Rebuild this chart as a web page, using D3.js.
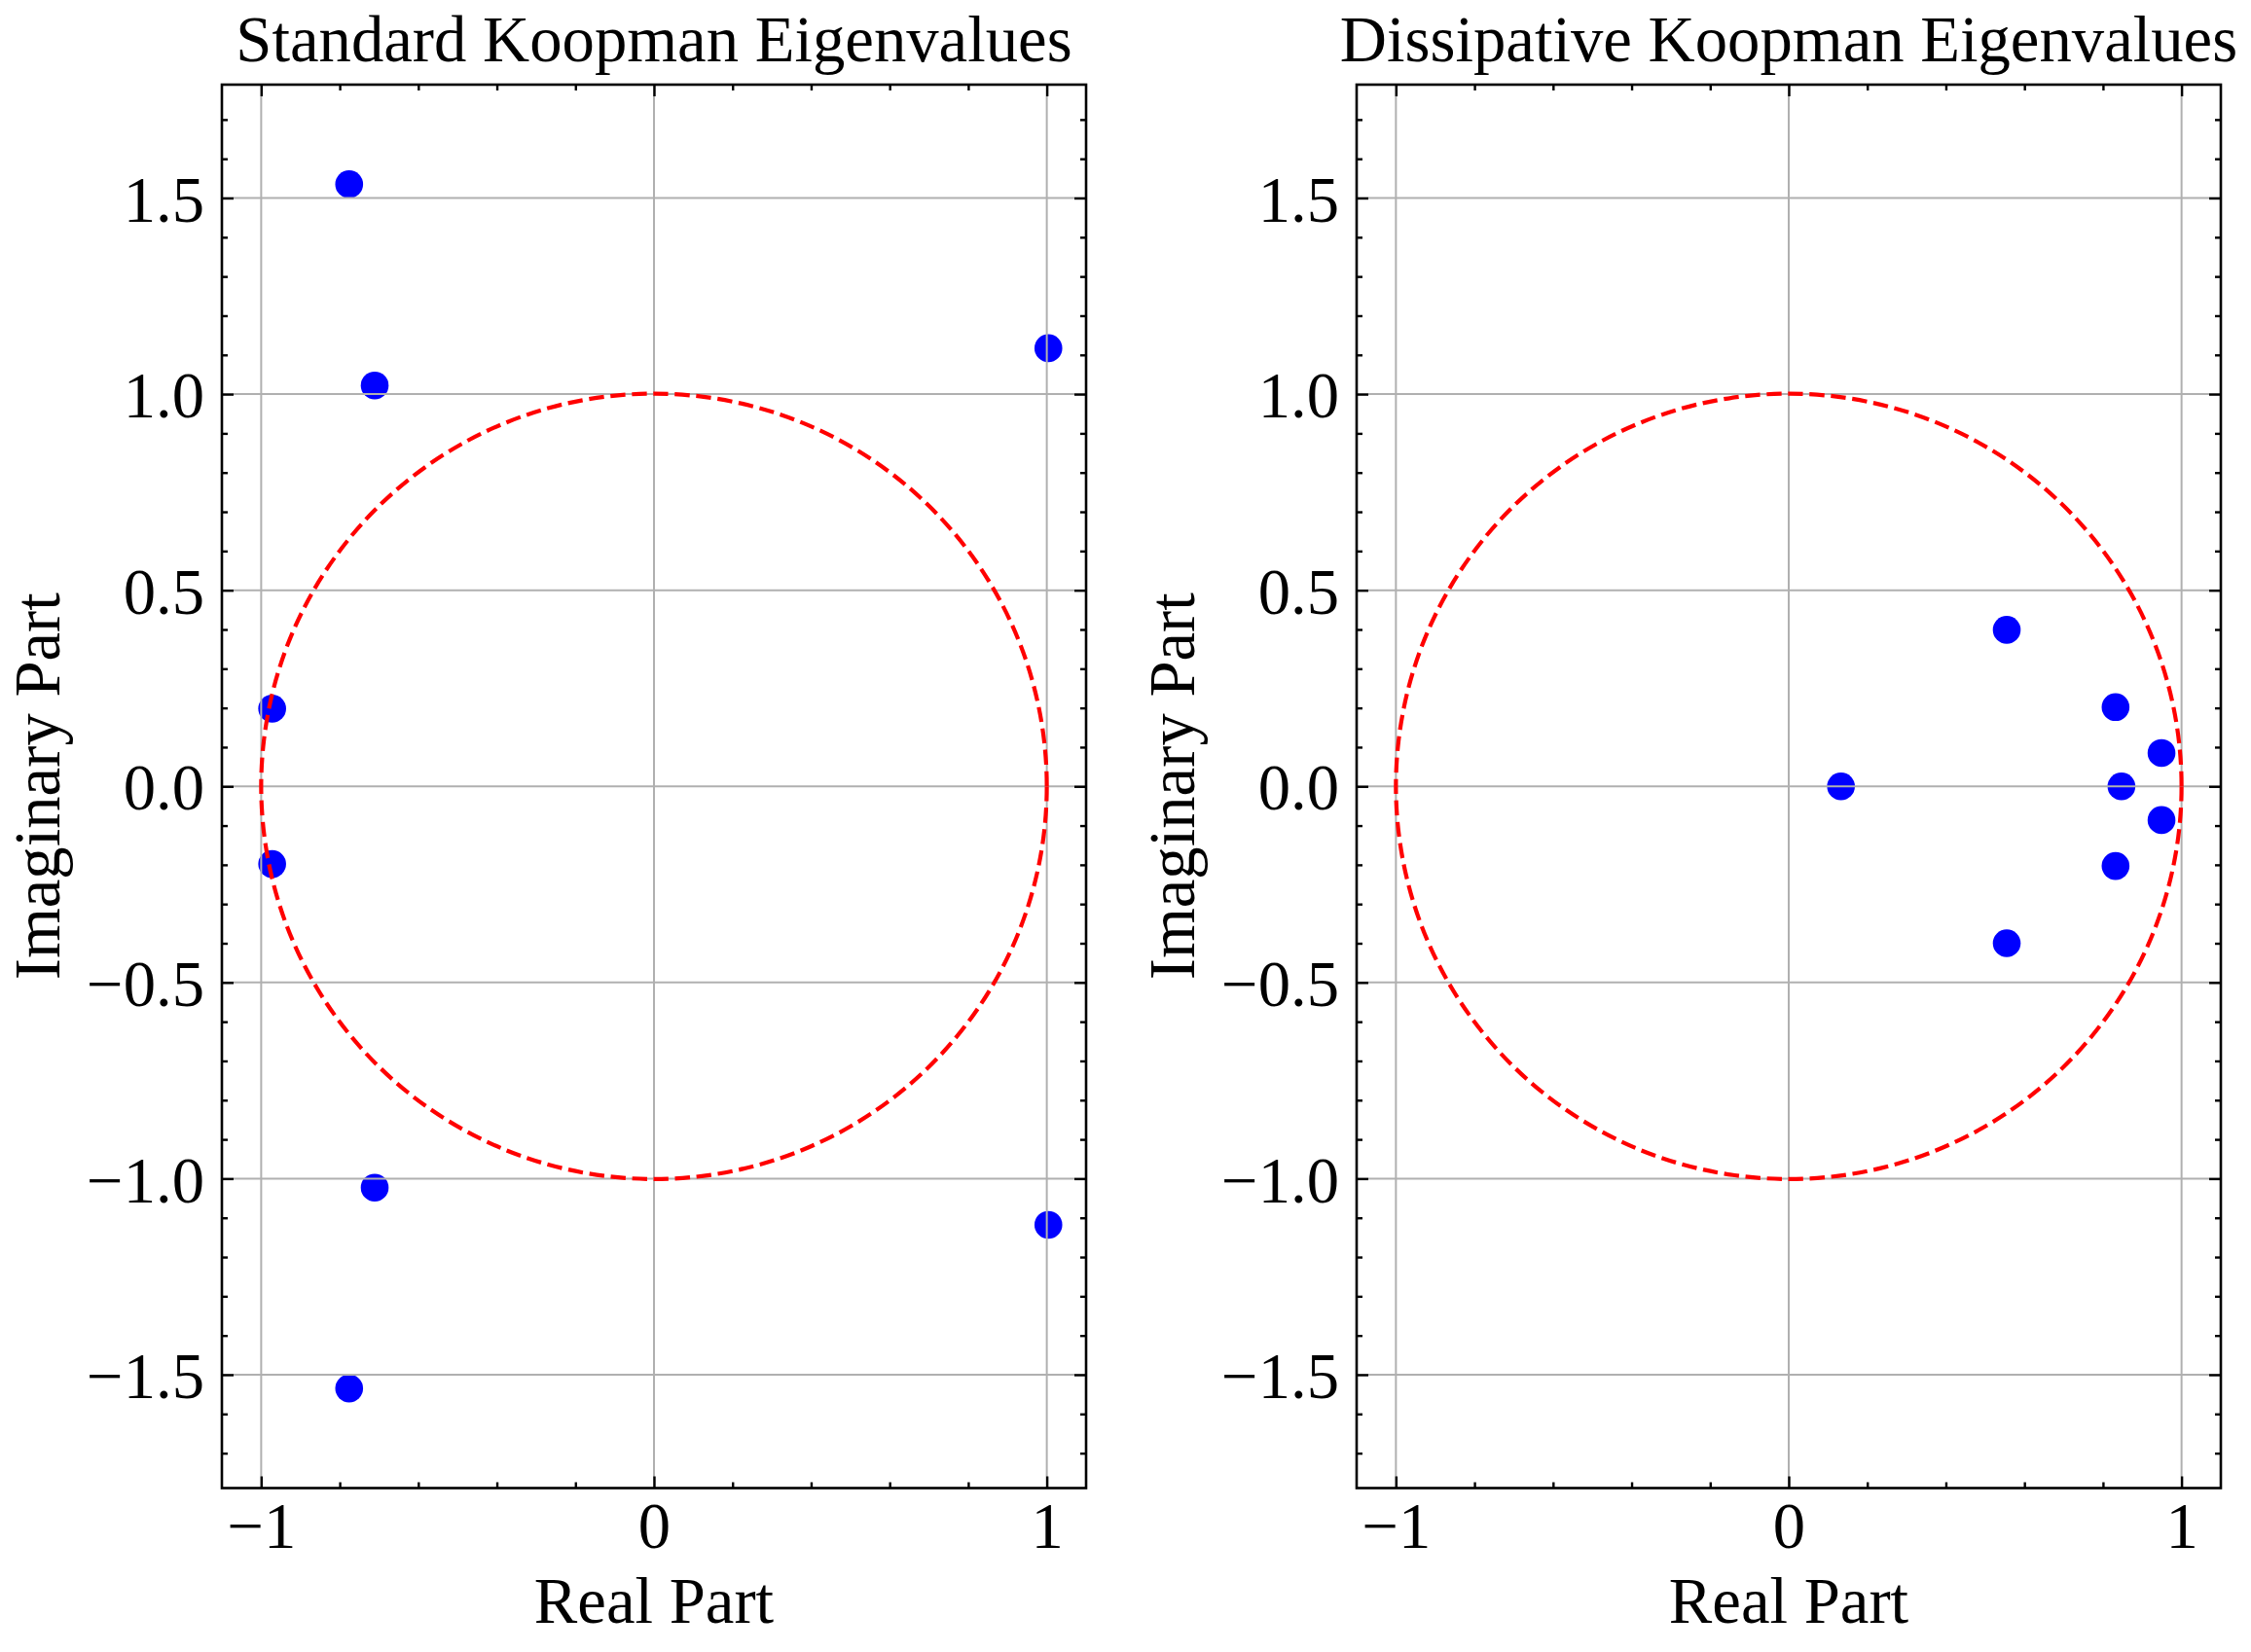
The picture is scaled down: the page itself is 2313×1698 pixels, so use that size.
<!DOCTYPE html>
<html>
<head>
<meta charset="utf-8">
<script src="https://cdn.jsdelivr.net/npm/d3@7"></script>
<style>
  body { margin: 0; background: #fff; }
  svg text { font-family: "Liberation Serif", "Times New Roman", serif; fill: #000; }
</style>
</head>
<body>
<div id="chart"></div>
<script>
// eigenvalues
const standardRe = [-0.776, -0.711, 1.004, -0.972, -0.972, -0.711, -0.776, 1.004];
const standardIm = [1.535, 1.022, 1.117, 0.198, -0.198, -1.023, -1.535, -1.118];
const dissipRe = [0.555, 0.832, 0.949, 0.133, 0.847, 0.949, 0.832, 0.555];
const dissipIm = [0.399, 0.202, 0.085, 0.0, 0.0, -0.086, -0.203, -0.400];

const xTicks = [-1, 0, 1];
const yTicks = [-1.5, -1.0, -0.5, 0.0, 0.5, 1.0, 1.5];
const xMinor = [-0.8, -0.6, -0.4, -0.2, 0.2, 0.4, 0.6, 0.8];
const yMinor = [-1.7, -1.6, -1.4, -1.3, -1.2, -1.1, -0.9, -0.8, -0.7, -0.6, -0.4, -0.3, -0.2, -0.1,
                0.1, 0.2, 0.3, 0.4, 0.6, 0.7, 0.8, 0.9, 1.1, 1.2, 1.3, 1.4, 1.6, 1.7];

const panels = [
  { title: "Standard Koopman Eigenvalues", re: standardRe, im: standardIm, left: 228 },
  { title: "Dissipative Koopman Eigenvalues", re: dissipRe, im: dissipIm, left: 1394 }
];

const W = 2313, H = 1698;
const plotTop = 87, plotW = 888, plotH = 1442.5;
const fontSize = 66.7;

const svg = d3.select("#chart").append("svg")
  .attr("width", W).attr("height", H);
svg.append("rect").attr("width", W).attr("height", H).attr("fill", "#fff");

panels.forEach((p, idx) => {
  const x = d3.scaleLinear().domain([-1.1, 1.1]).range([0, plotW]);
  const y = d3.scaleLinear().domain([-1.789, 1.789]).range([plotH, 0]);

  const g = svg.append("g").attr("transform", `translate(${p.left},${plotTop})`);

  g.append("clipPath").attr("id", "clip" + idx)
    .append("rect").attr("width", plotW).attr("height", plotH);

  const plot = g.append("g").attr("clip-path", `url(#clip${idx})`);

  // scatter (below grid, like matplotlib)
  plot.selectAll(".dot")
    .data(p.re.map((r, i) => ({ re: r, im: p.im[i] })))
    .enter()
    .append("circle")
    .attr("cx", d => x(d.re))
    .attr("cy", d => y(d.im))
    .attr("r", 14.3)
    .attr("fill", "#0000ff");

  // grid
  plot.selectAll(".vgrid").data(xTicks).enter().append("line")
    .attr("x1", d => x(d)).attr("x2", d => x(d))
    .attr("y1", 0).attr("y2", plotH)
    .attr("stroke", "#b0b0b0").attr("stroke-width", 2);
  plot.selectAll(".hgrid").data(yTicks).enter().append("line")
    .attr("x1", 0).attr("x2", plotW)
    .attr("y1", d => y(d)).attr("y2", d => y(d))
    .attr("stroke", "#b0b0b0").attr("stroke-width", 2);

  // unit circle
  plot.append("circle")
    .attr("cx", x(0)).attr("cy", y(0))
    .attr("r", x(1) - x(0))
    .attr("fill", "none")
    .attr("stroke", "#ff0000")
    .attr("stroke-width", 4.2)
    .attr("stroke-dasharray", "15.4,6.7");

  // ticks, all four sides, pointing in
  const fmtX = d3.format("d");
  const fmtY = d3.format(".1f");

  const bottom = g.append("g").attr("transform", `translate(0,${plotH})`)
    .call(d3.axisBottom(x).tickValues(xTicks).tickSize(-12).tickFormat(fmtX));
  bottom.selectAll("text").attr("y", 61.5).attr("dy", null)
    .style("font-size", fontSize + "px").style("font-family", null);
  g.append("g").attr("transform", `translate(0,${plotH})`)
    .call(d3.axisBottom(x).tickValues(xMinor).tickSize(-6).tickFormat(""));

  g.append("g")
    .call(d3.axisTop(x).tickValues(xTicks).tickSize(-12).tickFormat(""));
  g.append("g")
    .call(d3.axisTop(x).tickValues(xMinor).tickSize(-6).tickFormat(""));

  const leftAx = g.append("g")
    .call(d3.axisLeft(y).tickValues(yTicks).tickSize(-12).tickFormat(fmtY));
  leftAx.selectAll("text").attr("x", -18).attr("dy", "0.355em")
    .style("font-size", fontSize + "px").style("font-family", null);
  g.append("g")
    .call(d3.axisLeft(y).tickValues(yMinor).tickSize(-6).tickFormat(""));

  g.append("g").attr("transform", `translate(${plotW},0)`)
    .call(d3.axisRight(y).tickValues(yTicks).tickSize(-12).tickFormat(""));
  g.append("g").attr("transform", `translate(${plotW},0)`)
    .call(d3.axisRight(y).tickValues(yMinor).tickSize(-6).tickFormat(""));

  g.selectAll(".domain").remove();
  g.selectAll(".tick line").attr("stroke", "#000").attr("stroke-width", 2.4);

  // frame
  g.append("rect")
    .attr("width", plotW).attr("height", plotH)
    .attr("fill", "none").attr("stroke", "#000").attr("stroke-width", 2.6);

  // labels
  g.append("text")
    .attr("x", plotW / 2).attr("y", 62.7 - plotTop)
    .attr("text-anchor", "middle")
    .style("font-size", fontSize + "px")
    .text(p.title);

  g.append("text")
    .attr("x", plotW / 2).attr("y", 1668 - plotTop)
    .attr("text-anchor", "middle")
    .style("font-size", fontSize + "px")
    .text("Real Part");

  g.append("text")
    .attr("transform", `translate(-167,${plotH / 2}) rotate(-90)`)
    .attr("text-anchor", "middle")
    .style("font-size", fontSize + "px")
    .text("Imaginary Part");
});
</script>
</body>
</html>
